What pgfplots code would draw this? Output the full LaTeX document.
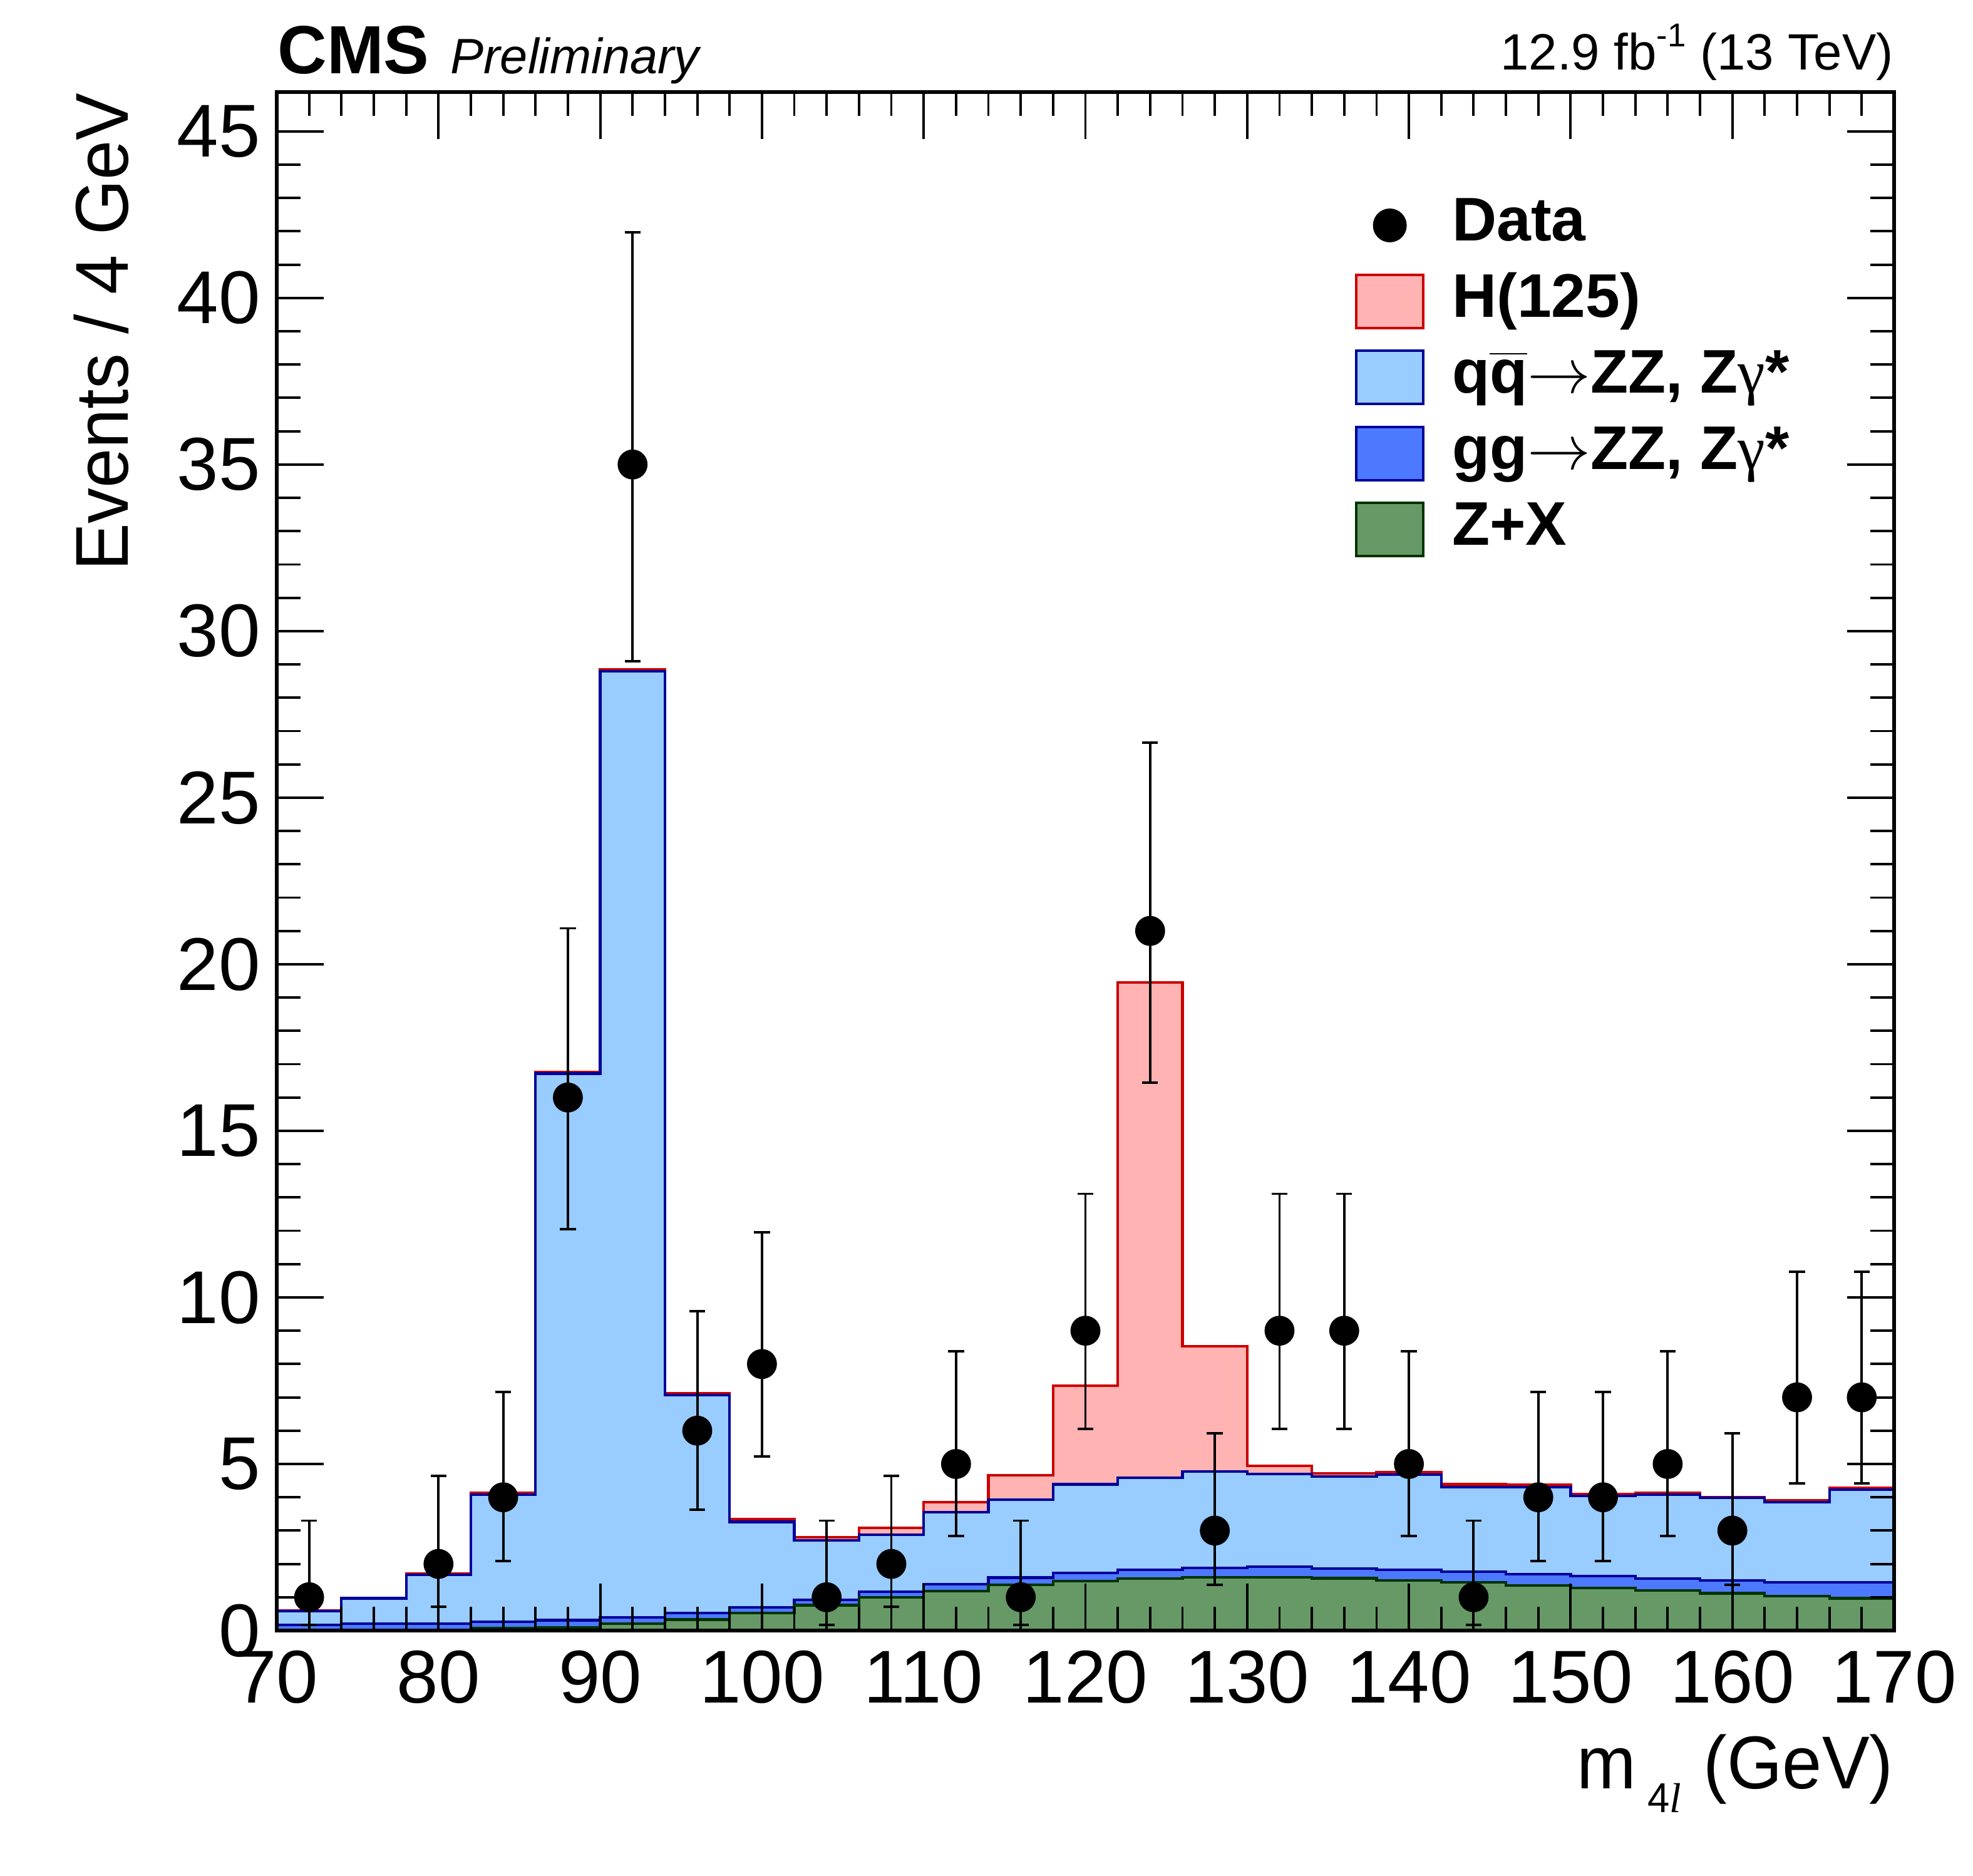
\documentclass[border=0pt]{standalone}
\usepackage{fontspec}
\setmainfont{Liberation Sans}
\newfontfamily\serifit{Liberation Serif}
\newfontfamily\labelfont[FakeStretch=0.95]{Liberation Sans}
\usepackage{pgfplots}
\usepackage{pgfplotstable}
\pgfplotsset{compat=1.18}

\definecolor{hfill}{RGB}{255,179,179}
\definecolor{hline}{RGB}{204,0,0}
\definecolor{qqfill}{RGB}{153,204,255}
\definecolor{bline}{RGB}{0,0,153}
\definecolor{ggfill}{RGB}{77,121,255}
\definecolor{zxfill}{RGB}{102,153,102}
\definecolor{zxline}{RGB}{0,51,0}

% cumulative stack heights per 4 GeV bin (left edge)
\pgfplotstableread{
x   zx    gg     qq     h
70  0.00  0.165  0.59   0.60
74  0.01  0.20   0.97   0.98
78  0.02  0.21   1.67   1.71
82  0.07  0.26   4.08   4.13
86  0.10  0.31   16.72  16.77
90  0.20  0.39   28.80  28.85
94  0.33  0.53   7.06   7.12
98  0.52  0.70   3.26   3.34
102 0.76  0.92   2.70   2.80
106 0.99  1.16   2.88   3.08
110 1.18  1.39   3.55   3.85
114 1.37  1.59   3.93   4.66
118 1.49  1.73   4.39   7.35
122 1.56  1.82   4.59   19.46
126 1.60  1.875  4.77   8.53
130 1.60  1.91   4.70   4.95
134 1.57  1.86   4.62   4.72
138 1.51  1.83   4.68   4.75
142 1.45  1.76   4.31   4.39
146 1.36  1.69   4.31   4.38
150 1.28  1.63   4.04   4.10
154 1.20  1.56   4.08   4.13
158 1.12  1.50   3.98   4.01
162 1.04  1.45   3.86   3.91
166 0.97  1.45   4.23   4.28
170 0.97  1.45   4.23   4.28
}\stack

\pgfplotstableread{
x   y   ep    em
72  1   2.30  0.827
80  2   2.638 1.292
84  4   3.163 1.914
88  16  5.08  3.96
92  35  6.97  5.90
96  6   3.584 2.380
100 8   3.95  2.768
104 1   2.30  0.827
108 2   2.638 1.292
112 5   3.382 2.160
116 1   2.30  0.827
120 9   4.11  2.943
124 21  5.65  4.55
128 3   2.918 1.633
132 9   4.11  2.943
136 9   4.11  2.943
140 5   3.382 2.160
144 1   2.30  0.827
148 4   3.163 1.914
152 4   3.163 1.914
156 5   3.382 2.160
160 3   2.918 1.633
164 7   3.77  2.581
168 7   3.77  2.581
}\data

\begin{document}
\begin{tikzpicture}
\path[use as bounding box] (-2.21cm,-1.955cm) rectangle (13.545cm,13.02cm);
\begin{axis}[
  name=ax, at={(0,0)}, anchor=south west,
  scale only axis, width=12.915cm, height=12.285cm,
  xmin=70, xmax=170, ymin=0, ymax=46.18,
  xtick={70,80,...,170}, ytick={0,5,...,45},
  minor x tick num=4, minor y tick num=4,
  tick align=inside, xtick pos=both, ytick pos=both,
  major tick length=0.375cm, minor tick length=0.19cm,
  tick style={black, line width=0.55pt},
  axis line style={line width=0.75pt},
  axis on top, clip=false,
  /pgf/number format/assume math mode=true,
  tick label style={font=\fontsize{17}{17}\selectfont, inner sep=0pt},
  xticklabel style={yshift=-0.155cm},
  yticklabel style={xshift=-0.125cm},
  xlabel={m\hspace{0.09cm}\raisebox{-0.19cm}{\fontsize{9.5}{9.5}\selectfont 4{\serifit\itshape l}}\hspace{0.18cm}(GeV)},
  ylabel={Events / 4 GeV},
  every axis x label/.style={at={(axis description cs:1,0)}, anchor=base east, yshift=-1.26cm, inner sep=0pt, font=\labelfont\fontsize{17}{17}\selectfont},
  every axis y label/.style={at={(axis description cs:-0.09214,1)}, rotate=90, anchor=base east, inner sep=0pt, font=\labelfont\fontsize{17}{17}\selectfont},
  legend image code/.code={\draw[#1] (0cm,-0.2125cm) rectangle (0.535cm,0.2125cm);},
  legend cell align=left,
  legend style={at={(axis description cs:0.66667,0.93162)}, anchor=north west,
    draw=none, fill=none, inner sep=0pt, outer sep=0pt,
    row sep=0.157cm, column sep=0.22cm,
    font=\fontsize{14}{14}\selectfont\bfseries,
    nodes={inner sep=0pt, text height=0.35cm, text depth=0.1cm}},
]
\addlegendimage{legend image code/.code={\path[draw=none, fill=none] (0cm,-0.2125cm) rectangle (0.535cm,0.2125cm); \fill[black, draw=none] (0.2675cm,0cm) circle (0.135cm);}}
\addlegendentry{Data}

\addplot[const plot, fill=hfill, draw=hline, line width=0.6pt] table[x=x, y=h] {\stack} \closedcycle;
\addlegendentry{H(125)}
\addplot[const plot, fill=qqfill, draw=bline, line width=0.6pt] table[x=x, y=qq] {\stack} \closedcycle;
\addlegendentry{q$\overline{\mbox{q}}$$\rightarrow$ZZ, Z{\serifit\mdseries γ}*}
\addplot[const plot, fill=ggfill, draw=bline, line width=0.6pt] table[x=x, y=gg] {\stack} \closedcycle;
\addlegendentry{gg$\rightarrow$ZZ, Z{\serifit\mdseries γ}*}
\addplot[const plot, fill=zxfill, draw=zxline, line width=0.6pt] table[x=x, y=zx] {\stack} \closedcycle;
\addlegendentry{Z+X}

\addplot[forget plot, only marks, mark=*, mark size=3.2pt, black,
  error bars/.cd, y dir=both, y explicit,
  error bar style={line width=0.55pt, black},
  error mark options={rotate=90, line width=0.55pt, mark size=1.8pt, black}]
  table[x=x, y=y, y error plus=ep, y error minus=em] {\data};
\end{axis}
\node[anchor=base west, inner sep=0pt] at ([yshift=0.145cm]ax.north west)
  {\fontsize{15.5}{15.5}\selectfont\bfseries CMS\hspace{0.17cm}{\fontsize{11.3}{11.3}\selectfont\mdseries\itshape Preliminary}};
\node[anchor=base east, inner sep=0pt] at ([yshift=0.175cm]ax.north east)
  {\fontsize{11.6}{11.6}\selectfont 12.9 fb\raisebox{0.185cm}{\fontsize{7.5}{7.5}\selectfont -1} (13 TeV)};
\end{tikzpicture}
\end{document}
